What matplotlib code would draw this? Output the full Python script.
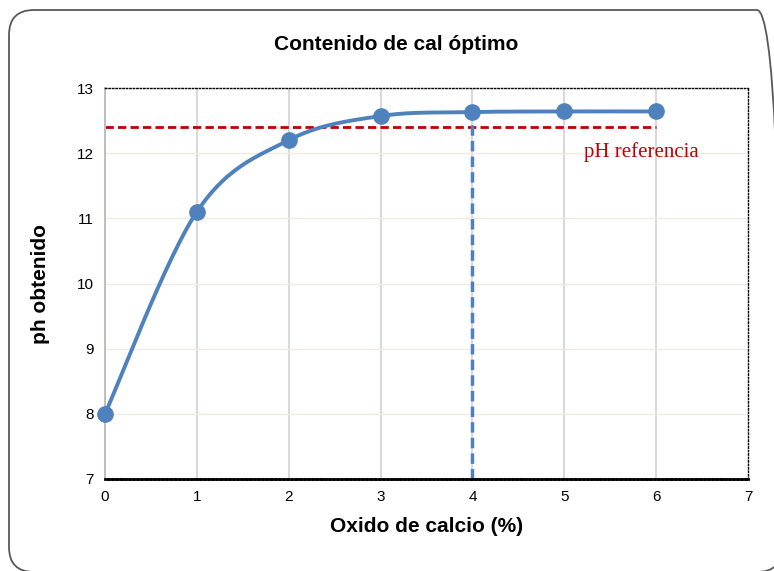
import numpy as np
import matplotlib
matplotlib.use('Agg')
import matplotlib.pyplot as plt
from matplotlib.patches import FancyBboxPatch

# lime content vs pH
cal = [0, 1, 2, 3, 4, 5, 6]
ph = [8.0, 11.1, 12.2, 12.57, 12.63, 12.64, 12.64]
ph_ref = 12.4
cal_opt = 4

blue = '#4f81bd'
red = '#c00000'


def smooth(xs, ys, n=30):
    # Catmull-Rom style bezier like spreadsheet smoothed lines
    xs = np.array(xs, float)
    ys = np.array(ys, float)
    px = np.concatenate([[xs[0]], xs, [xs[-1]]])
    py = np.concatenate([[ys[0]], ys, [ys[-1]]])
    ox, oy = [], []
    t = np.linspace(0, 1, n)
    for i in range(1, len(px) - 2):
        p0 = np.array([px[i], py[i]])
        p3 = np.array([px[i + 1], py[i + 1]])
        c1 = p0 + (p3 - np.array([px[i - 1], py[i - 1]])) / 6
        c2 = p3 - (np.array([px[i + 2], py[i + 2]]) - p0) / 6
        pts = (np.outer((1 - t) ** 3, p0) + np.outer(3 * (1 - t) ** 2 * t, c1)
               + np.outer(3 * (1 - t) * t ** 2, c2) + np.outer(t ** 3, p3))
        ox.extend(pts[:, 0])
        oy.extend(pts[:, 1])
    return ox, oy


fig = plt.figure(figsize=(7.74, 5.71), dpi=100)
# chart frame, runs slightly off the right and bottom edges
fig.patches.append(FancyBboxPatch((0.09, -0.01), 7.73, 5.62,
                                  boxstyle='round,pad=0,rounding_size=0.25',
                                  transform=fig.dpi_scale_trans, fc='none',
                                  ec='#595959', lw=1.3))
ax = fig.add_axes([105 / 774, 1 - 479 / 571, 643 / 774, 391 / 571])
ax.set_facecolor('none')

ax.set_xlim(0, 7)
ax.set_ylim(7, 13)
ax.set_xticks(range(0, 8))
ax.set_yticks(range(7, 14))
for x in range(1, 7):
    ax.axvline(x, color='#d9d9d9', lw=1.5, zorder=0)
for y in range(8, 13):
    ax.axhline(y, color='#eeece1', lw=1, zorder=0)

ax.spines['left'].set_color('#bfbfbf')
ax.spines['left'].set_linewidth(1.5)
for s in ['top', 'right']:
    ax.spines[s].set_linestyle((0, (1, 1.5)))
    ax.spines[s].set_linewidth(1)
ax.spines['bottom'].set_linestyle((0, (1, 0.5)))
ax.spines['bottom'].set_linewidth(2)
ax.tick_params(length=0, labelsize=11, pad=8)

ax.plot([cal[0], cal[-1]], [ph_ref, ph_ref], color=red, lw=2, ls=(0, (3, 1.5)), zorder=2)
ax.plot([cal_opt, cal_opt], [7, ph[cal.index(cal_opt)]], color=blue, lw=2.5,
        ls=(0, (3, 1.5)), zorder=2)
sx, sy = smooth(cal, ph)
ax.plot(sx, sy, color=blue, lw=2.8, zorder=3, clip_on=False)
ax.plot(cal, ph, 'o', color=blue, ms=11, zorder=4, clip_on=False)

ax.text(5.84, 12.02, 'pH referencia', color=red, fontsize=15,
        family='Liberation Serif', ha='center', va='center')

fig.text(396 / 774, 1 - 45 / 571, 'Contenido de cal óptimo', fontsize=15,
         fontweight='bold', family='Liberation Sans', ha='center', va='center')
ax.set_xlabel('Oxido de calcio (%)', fontsize=15, fontweight='bold',
              family='Liberation Sans', labelpad=9)
ax.set_ylabel('ph obtenido', fontsize=15, fontweight='bold',
              family='Liberation Sans', labelpad=19)
for lab in ax.get_xticklabels() + ax.get_yticklabels():
    lab.set_family('Liberation Sans')

fig.savefig('out.png', dpi=100)
